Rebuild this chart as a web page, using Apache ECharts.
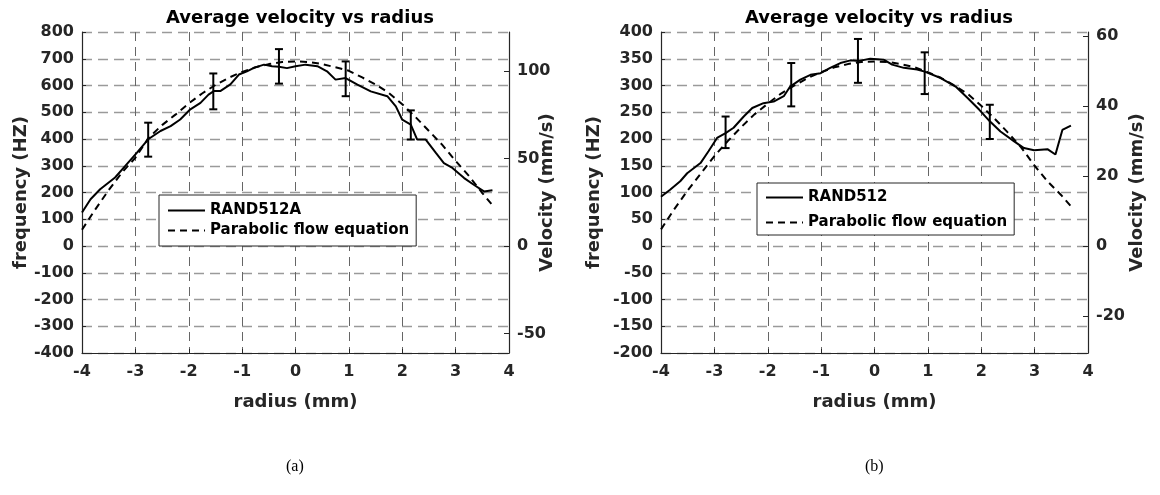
<!DOCTYPE html>
<html>
<head>
<meta charset="utf-8">
<script src="https://cdn.jsdelivr.net/npm/echarts@6/dist/echarts.min.js"></script>
<style>
  html, body { margin: 0; padding: 0; background: #fff; }
  #main { width: 1160px; height: 495px; }
</style>
</head>
<body>
<div id="main"></div>
<script>
var chartDom = document.getElementById('main');
var myChart = echarts.init(chartDom);
var option;

// (a) RAND512A measured
var radiusA = [-4, -3.84, -3.66, -3.38, -3.16, -2.97, -2.76, -2.53, -2.34, -2.16, -1.97, -1.78, -1.63, -1.53, -1.41, -1.22, -1.06, -0.91, -0.78, -0.59, -0.44, -0.31, -0.16, 0, 0.19, 0.41, 0.59, 0.75, 0.94, 1.16, 1.41, 1.72, 1.88, 2.0, 2.16, 2.28, 2.44, 2.63, 2.78, 2.94, 3.16, 3.34, 3.53, 3.69];
var freqA = [125, 175, 212, 256, 306, 349, 399, 430, 448, 473, 511, 535, 566, 579, 579, 604, 641, 653, 666, 678, 672, 670, 665, 672, 678, 672, 653, 622, 628, 603, 578, 560, 522, 472, 454, 398, 398, 348, 310, 292, 254, 229, 204, 208];
// (a) parabolic fit
var radiusFitA = [-4, -3.75, -3.5, -3.25, -3, -2.75, -2.5, -2.25, -2, -1.75, -1.5, -1.25, -1, -0.75, -0.5, -0.25, 0, 0.25, 0.5, 0.75, 1, 1.25, 1.5, 1.75, 2, 2.25, 2.5, 2.75, 3, 3.25, 3.5, 3.7];
var freqFitA = [61, 137, 209, 275, 330, 405, 452, 491, 533, 570, 602, 629, 651, 668, 680, 688, 690, 688, 680, 668, 655, 630, 604, 572, 530, 482, 430, 378, 318, 262, 198, 150];
// (a) error bars: radius, low, high
var errRadiusA = [-2.76, -1.54, -0.31, 0.94, 2.16];
var errLowA = [334, 511, 607, 560, 398];
var errHighA = [461, 645, 736, 690, 507];

// (b) RAND512 measured
var radiusB = [-4, -3.83, -3.64, -3.51, -3.26, -3.11, -2.95, -2.79, -2.64, -2.45, -2.29, -2.08, -1.89, -1.7, -1.58, -1.39, -1.2, -1.01, -0.83, -0.64, -0.45, -0.29, -0.08, 0.18, 0.33, 0.55, 0.8, 0.94, 1.24, 1.52, 1.74, 1.96, 2.16, 2.36, 2.61, 2.8, 2.99, 3.24, 3.39, 3.52, 3.68];
var freqB = [92, 105, 121, 136, 155, 177, 202, 211, 221, 242, 258, 267, 270, 280, 298, 311, 320, 323, 333, 342, 347, 346, 350, 348, 339, 333, 330, 326, 314, 298, 277, 255, 233, 214, 196, 183, 179, 181, 171, 217, 225];
// (b) parabolic fit
var radiusFitB = [-4, -3.75, -3.5, -3.25, -3, -2.75, -2.5, -2.25, -2, -1.75, -1.5, -1.25, -1, -0.75, -0.5, -0.25, 0, 0.25, 0.5, 0.75, 1, 1.25, 1.5, 1.75, 2, 2.25, 2.5, 2.75, 3, 3.25, 3.5, 3.7];
var freqFitB = [31, 69, 104, 136, 168, 196, 222, 246, 266, 285, 300, 314, 325, 334, 340, 344, 345, 344, 340, 334, 325, 314, 300, 284, 262, 238, 212, 184, 150, 120, 95, 72];
// (b) error bars
var errRadiusB = [-2.79, -1.56, -0.31, 0.94, 2.16];
var errLowB = [183, 261, 305, 284, 200];
var errHighB = [242, 342, 387, 362, 264];

// tick labels
var radiusTicks = [-4, -3, -2, -1, 0, 1, 2, 3, 4];
var velTicksA = [-50, 0, 50, 100];
var velTicksB = [-20, 0, 20, 40, 60];

var HZ_PER_MMS = 6.54; // frequency per velocity unit (shared scale)

function pairs(xs, ys) {
    var out = [];
    for (var i = 0; i < xs.length; i++) out.push([xs[i], ys[i]]);
    return out;
}
function triples(xs, lo, hi) {
    var out = [];
    for (var i = 0; i < xs.length; i++) out.push([xs[i], lo[i], hi[i]]);
    return out;
}

var FONT = 'DejaVu Sans';
var tickFont = {fontFamily: FONT, fontWeight: 'bold', fontSize: 16, color: '#262626'};
var nameFont = {fontFamily: FONT, fontWeight: 'bold', fontSize: 18, color: '#262626'};

function errorBar(params, api) {
    var x = api.value(0);
    var top = api.coord([x, api.value(2)]);
    var bot = api.coord([x, api.value(1)]);
    var cap = 4;
    var st = {stroke: '#000', lineWidth: 2};
    return {
        type: 'group',
        children: [
            {type: 'line', shape: {x1: top[0], y1: top[1], x2: bot[0], y2: bot[1]}, style: st},
            {type: 'line', shape: {x1: top[0] - cap, y1: top[1], x2: top[0] + cap, y2: top[1]}, style: st},
            {type: 'line', shape: {x1: bot[0] - cap, y1: bot[1], x2: bot[0] + cap, y2: bot[1]}, style: st}
        ]
    };
}

function xAxisOf(idx) {
    return {
        type: 'value', gridIndex: idx, min: -4, max: 4, interval: 1,
        name: 'radius (mm)', nameLocation: 'middle', nameGap: 40, nameTextStyle: nameFont,
        nameMoveOverlap: false,
        axisLine: {show: true, onZero: false, lineStyle: {color: '#262626', width: 1.2}},
        axisTick: {show: true, inside: true, length: 4, lineStyle: {color: '#262626'}},
        axisLabel: Object.assign({margin: 11}, tickFont),
        splitLine: {show: true, lineStyle: {color: '#666', width: 1, type: [9, 6]}}
    };
}
function freqAxis(idx, mn, mx, step, gap) {
    return {
        type: 'value', gridIndex: idx, position: 'left', min: mn, max: mx, interval: step,
        name: 'frequency (HZ)', nameLocation: 'middle', nameGap: gap, nameTextStyle: nameFont,
        nameMoveOverlap: false,
        axisLine: {show: true, onZero: false, lineStyle: {color: '#262626', width: 1.2}},
        axisTick: {show: true, inside: true, length: 4, lineStyle: {color: '#262626'}},
        axisLabel: Object.assign({margin: 8}, tickFont),
        splitLine: {show: true, lineStyle: {color: '#9a9a9a', width: 1.4, type: [10, 6]}}
    };
}
function velAxis(idx, mn, mx, ticks, gap) {
    return {
        type: 'value', gridIndex: idx, position: 'right', min: mn / HZ_PER_MMS, max: mx / HZ_PER_MMS,
        name: 'Velocity (mm/s)', nameLocation: 'middle', nameGap: gap, nameTextStyle: nameFont,
        nameMoveOverlap: false,
        axisLine: {show: true, onZero: false, lineStyle: {color: '#262626', width: 1.2}},
        axisTick: {show: true, inside: true, length: 5, customValues: ticks, lineStyle: {color: '#262626'}},
        axisLabel: Object.assign({margin: 8, customValues: ticks}, tickFont),
        splitLine: {show: false}
    };
}

var legendText = {fontFamily: FONT, fontWeight: 'bold', fontSize: 15, color: '#000'};

option = {
    backgroundColor: '#fff',
    animation: false,
    title: [
        {text: 'Average velocity vs radius', left: 295, top: 4, textAlign: 'center',
         textStyle: {fontFamily: FONT, fontWeight: 'bold', fontSize: 18, color: '#000'}},
        {text: 'Average velocity vs radius', left: 874, top: 4, textAlign: 'center',
         textStyle: {fontFamily: FONT, fontWeight: 'bold', fontSize: 18, color: '#000'}}
    ],
    grid: [
        {left: 82, top: 32, width: 427, height: 321},
        {left: 661, top: 32, width: 427, height: 321}
    ],
    legend: [
        {
            data: ['RAND512A', 'Parabolic flow equation'],
            orient: 'vertical', left: 159, top: 195,
            padding: [8, 7, 8, 8], itemGap: 5, itemWidth: 37, itemHeight: 14,
            itemStyle: {opacity: 0},
            backgroundColor: '#fff', borderColor: '#262626', borderWidth: 1,
            textStyle: legendText
        },
        {
            data: ['RAND512', 'Parabolic flow equation'],
            orient: 'vertical', left: 757, top: 183,
            padding: [7, 7, 5, 8], itemGap: 10, itemWidth: 37, itemHeight: 14,
            itemStyle: {opacity: 0},
            backgroundColor: '#fff', borderColor: '#262626', borderWidth: 1,
            textStyle: legendText
        }
    ],
    xAxis: [xAxisOf(0), xAxisOf(1)],
    yAxis: [
        freqAxis(0, -400, 800, 100, 52),
        velAxis(0, -400, 800, velTicksA, 29),
        freqAxis(1, -200, 400, 50, 58),
        velAxis(1, -200, 400, velTicksB, 40)
    ],
    series: [
        {name: 'RAND512A', type: 'line', xAxisIndex: 0, yAxisIndex: 0, data: pairs(radiusA, freqA),
         symbol: 'none', smooth: false, lineStyle: {color: '#000', width: 2}, itemStyle: {color: '#000'}},
        {name: 'Parabolic flow equation', type: 'line', xAxisIndex: 0, yAxisIndex: 0, data: pairs(radiusFitA, freqFitA),
         symbol: 'none', lineStyle: {color: '#000', width: 2, type: [7, 5]}, itemStyle: {color: '#000'}},
        {name: 'errA', type: 'custom', xAxisIndex: 0, yAxisIndex: 0, renderItem: errorBar,
         encode: {x: 0, y: [1, 2]}, data: triples(errRadiusA, errLowA, errHighA), z: 5},
        {name: 'RAND512', type: 'line', xAxisIndex: 1, yAxisIndex: 2, data: pairs(radiusB, freqB),
         symbol: 'none', lineStyle: {color: '#000', width: 2}, itemStyle: {color: '#000'}},
        {name: 'Parabolic flow equation', type: 'line', xAxisIndex: 1, yAxisIndex: 2, data: pairs(radiusFitB, freqFitB),
         symbol: 'none', lineStyle: {color: '#000', width: 2, type: [7, 5]}, itemStyle: {color: '#000'}},
        {name: 'errB', type: 'custom', xAxisIndex: 1, yAxisIndex: 2, renderItem: errorBar,
         encode: {x: 0, y: [1, 2]}, data: triples(errRadiusB, errLowB, errHighB), z: 5}
    ],
    graphic: [
        {type: 'text', left: 286, top: 459, style: {text: '(a)', fontFamily: 'Liberation Serif', fontSize: 16, fill: '#000'}},
        {type: 'text', left: 865, top: 459, style: {text: '(b)', fontFamily: 'Liberation Serif', fontSize: 16, fill: '#000'}}
    ]
};

option && myChart.setOption(option);
</script>
</body>
</html>
